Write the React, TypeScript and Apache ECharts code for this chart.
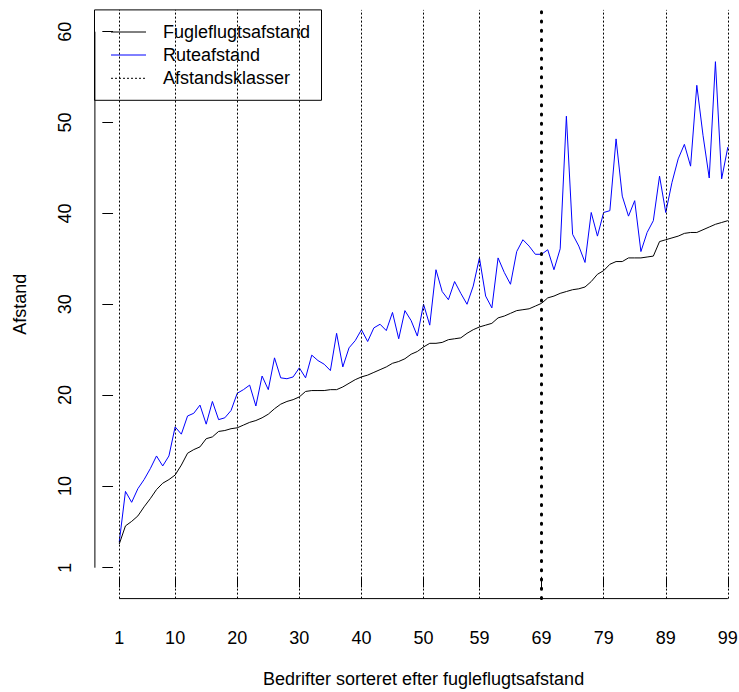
import React, { useEffect, useRef } from "react";
import * as echarts from "echarts";

// Fugleflugtsafstand (black), sorted ascending
const fugleflugt: number[] = [
  3.6, 5.6, 6.1, 6.7, 7.7, 8.6, 9.6, 10.3, 10.7, 11.2,
  12.3, 13.6, 14.0, 14.3, 15.2, 15.4, 16.0, 16.1, 16.3, 16.4,
  16.7, 17.0, 17.2, 17.5, 17.9, 18.5, 19.0, 19.3, 19.5, 19.8,
  20.4, 20.5, 20.5, 20.5, 20.6, 20.6, 20.9, 21.3, 21.7, 22.0,
  22.2, 22.5, 22.8, 23.1, 23.5, 23.7, 24.0, 24.5, 24.8, 25.3,
  25.7, 25.7, 25.8, 26.1, 26.2, 26.3, 26.8, 27.2, 27.5, 27.7,
  27.9, 28.5, 28.7, 29.0, 29.3, 29.4, 29.5, 29.8, 30.1, 30.7,
  30.9, 31.2, 31.4, 31.6, 31.7, 31.9, 32.5, 33.3, 33.7, 34.4,
  34.7, 34.7, 35.1, 35.1, 35.1, 35.2, 35.3, 36.9, 37.1, 37.3,
  37.5, 37.8, 37.9, 37.9, 38.2, 38.5, 38.8, 39.0, 39.2,
];

// Ruteafstand (blue)
const rute: number[] = [
  3.8, 9.4, 8.2, 9.7, 10.7, 11.9, 13.3, 12.2, 13.3, 16.5,
  15.7, 17.7, 18.0, 18.9, 16.8, 19.3, 17.3, 17.5, 18.3, 20.2,
  20.6, 21.1, 18.8, 22.1, 20.6, 24.1, 21.9, 21.8, 22.0, 23.0,
  21.9, 24.4, 23.8, 23.4, 22.7, 26.8, 23.1, 25.2, 26.0, 27.2,
  25.9, 27.4, 27.8, 27.1, 29.1, 26.2, 29.3, 28.2, 26.5, 30.0,
  27.7, 33.8, 31.4, 30.5, 32.5, 31.2, 30.0, 32.0, 35.1, 30.9,
  29.6, 35.1, 33.5, 32.2, 35.8, 37.1, 36.4, 35.5, 35.5, 36.0,
  33.8, 36.1, 50.7, 37.7, 36.4, 34.6, 40.1, 37.5, 40.1, 40.3,
  48.2, 41.9, 39.7, 41.4, 35.8, 37.9, 39.2, 44.1, 40.1, 43.4,
  46.0, 47.6, 45.2, 54.1, 48.6, 43.9, 56.7, 43.8, 47.3,
];

const xTicks: number[] = [1, 10, 20, 30, 40, 50, 59, 69, 79, 89, 99];
const yTicks: number[] = [1, 10, 20, 30, 40, 50, 60];
const classBreak = 69;
const seriesNames = ["Fugleflugtsafstand", "Ruteafstand", "Afstandsklasser"];

const FONT = '"Liberation Sans", Arial, sans-serif';

export default function App() {
  const ref = useRef<HTMLDivElement>(null);

  useEffect(() => {
    if (!ref.current) return;
    const chart = echarts.init(ref.current, undefined, { renderer: "svg" });

    const rank = (i: number) => i + 1;
    const blackData = fugleflugt.map((v, i) => [rank(i), v]);
    const blueData = rute.map((v, i) => [rank(i), v]);

    const xMin = -2.92, xMax = 102.92;
    const yMin = -2.4, yMax = 62.4;

    const axisLineSeries = (data: number[][]) => ({
      type: "line",
      data,
      symbol: "none",
      clip: false,
      silent: true,
      lineStyle: { color: "#000", width: 1 },
      z: 5,
    });

    const option: any = {
      animation: false,
      backgroundColor: "#ffffff",
      textStyle: { fontFamily: FONT },
      grid: {
        left: 94.9,
        top: 9.9,
        width: 657.3,
        height: 588.7,
        containLabel: false,
        outerBoundsMode: "none",
      },
      xAxis: {
        type: "value",
        min: xMin,
        max: xMax,
        axisLine: { show: false },
        splitLine: { show: false },
        axisTick: {
          show: true,
          customValues: xTicks,
          length: 10.7,
          lineStyle: { color: "#000", width: 1 },
        },
        axisLabel: {
          customValues: xTicks,
          margin: 30,
          fontSize: 18,
          color: "#000",
          fontFamily: FONT,
        },
        name: "Bedrifter sorteret efter fugleflugtsafstand",
        nameLocation: "middle",
        nameGap: 71,
        nameTextStyle: { fontSize: 18, color: "#000", fontFamily: FONT },
      },
      yAxis: {
        type: "value",
        min: yMin,
        max: yMax,
        axisLine: { show: false },
        splitLine: { show: false },
        axisTick: {
          show: true,
          customValues: yTicks,
          length: 10.7,
          lineStyle: { color: "#000", width: 1 },
        },
        axisLabel: {
          customValues: yTicks,
          rotate: 90,
          margin: 21,
          fontSize: 18,
          color: "#000",
          fontFamily: FONT,
        },
        name: "Afstand",
        nameLocation: "middle",
        nameRotate: 90,
        nameGap: 66,
        nameTextStyle: { fontSize: 18, color: "#000", fontFamily: FONT },
      },
      series: [
        {
          name: seriesNames[2],
          type: "line",
          data: [],
          silent: true,
          markLine: {
            silent: true,
            symbol: "none",
            label: { show: false },
            data: [
              ...xTicks
                .filter((t) => t !== classBreak)
                .map((t) => ({
                  xAxis: t,
                  lineStyle: { color: "#000", width: 1, type: [2, 2] },
                })),
              {
                xAxis: classBreak,
                lineStyle: { color: "#000", width: 3, type: [1, 8.3], cap: "round" },
              },
            ],
          },
        },
        // R-style axis lines spanning first to last tick
        axisLineSeries([
          [xTicks[0], yMin],
          [xTicks[xTicks.length - 1], yMin],
        ]),
        axisLineSeries([
          [xMin, yTicks[0]],
          [xMin, yTicks[yTicks.length - 1]],
        ]),
        {
          name: seriesNames[0],
          type: "line",
          data: blackData,
          symbol: "none",
          lineStyle: { color: "#000000", width: 1 },
          silent: true,
        },
        {
          name: seriesNames[1],
          type: "line",
          data: blueData,
          symbol: "none",
          lineStyle: { color: "#0000ff", width: 1 },
          silent: true,
        },
      ],
      graphic: [
        {
          type: "group",
          silent: true,
          children: [
            {
              type: "rect",
              shape: { x: 94.5, y: 9.9, width: 227, height: 90.4 },
              style: { fill: "none", stroke: "#000", lineWidth: 1 },
            },
            {
              type: "line",
              shape: { x1: 111, y1: 32, x2: 146, y2: 32 },
              style: { stroke: "#000", lineWidth: 1 },
            },
            {
              type: "line",
              shape: { x1: 111, y1: 55, x2: 146, y2: 55 },
              style: { stroke: "#0000ff", lineWidth: 1 },
            },
            {
              type: "line",
              shape: { x1: 111, y1: 78.3, x2: 146, y2: 78.3 },
              style: { stroke: "#000", lineWidth: 1, lineDash: [2, 2] },
            },
            ...seriesNames.map((n, k) => ({
              type: "text",
              style: {
                text: n,
                x: 163,
                y: [32, 55, 78.3][k],
                fill: "#000",
                font: `18px ${FONT}`,
                align: "left",
                verticalAlign: "middle",
              },
            })),
          ],
        },
      ],
    };

    chart.setOption(option);
    return () => chart.dispose();
  }, []);

  return (
    <div
      style={{
        position: "fixed",
        left: 0,
        top: 0,
        width: 739,
        height: 692,
        overflow: "hidden",
        background: "#fff",
      }}
    >
      <div ref={ref} style={{ width: 753, height: 692 }} />
    </div>
  );
}
